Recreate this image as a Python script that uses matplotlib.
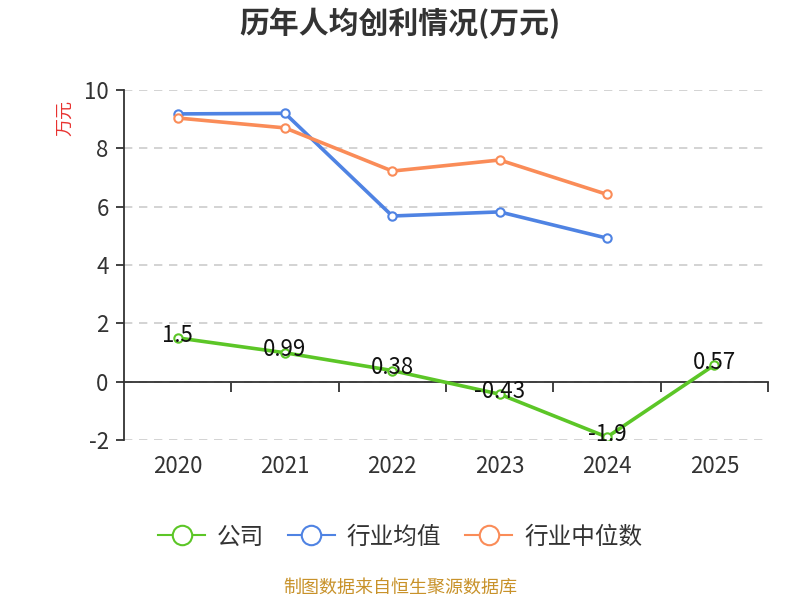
import matplotlib
matplotlib.use("Agg")
import matplotlib.pyplot as plt
from matplotlib.lines import Line2D
import numpy as np

plt.rcParams['font.family'] = ['Noto Sans CJK SC', 'DejaVu Sans']
plt.rcParams['axes.unicode_minus'] = False

years = ['2020', '2021', '2022', '2023', '2024', '2025']
company = [1.5, 0.99, 0.38, -0.43, -1.9, 0.57]
company_labels = ['1.5', '0.99', '0.38', '-0.43', '-1.9', '0.57']
industry_avg = [9.18, 9.2, 5.68, 5.82, 4.92]
industry_median = [9.04, 8.7, 7.22, 7.6, 6.42]
yticks = [-2, 0, 2, 4, 6, 8, 10]

green = '#5cc627'
blue = '#4f83e3'
orange = '#fa8c58'


def main():
    fig = plt.figure(figsize=(8, 6), dpi=100)
    ax = fig.add_axes([0.155, 0.2667, 0.805, 0.5833])

    x = np.arange(len(years))
    mk = dict(marker='o', markersize=6, markerfacecolor='white', markeredgewidth=1.5)
    ax.plot(x, company, color=green, linewidth=2.6, markeredgecolor=green, zorder=4, **mk)
    ax.plot(x[:len(industry_avg)], industry_avg, color=blue, linewidth=2.6,
            markeredgecolor=blue, zorder=3, **mk)
    ax.plot(x[:len(industry_median)], industry_median, color=orange, linewidth=2.6,
            markeredgecolor=orange, zorder=3, **mk)

    for xi, v, s in zip(x, company, company_labels):
        ax.annotate(s, (xi, v), xytext=(0, 2), textcoords='offset points',
                    ha='center', va='center', fontsize=16, color='#111111', zorder=5)

    ax.set_xlim(-0.5, len(years) - 0.5)
    ax.set_ylim(-2, 10)
    ax.set_yticks(yticks)
    ax.set_yticklabels([str(t) for t in yticks], fontsize=16, color='#333333')
    ax.grid(axis='y', linestyle=(0, (5, 4)), color='#cccccc', linewidth=1.2)
    ax.set_axisbelow(True)

    # x axis sits at y = 0, labels below the plot
    ax.spines['bottom'].set_position(('data', 0))
    ax.spines['bottom'].set_color('#333333')
    ax.spines['bottom'].set_linewidth(1.3)
    ax.spines['left'].set_color('#333333')
    ax.spines['left'].set_linewidth(1.3)
    ax.spines['top'].set_visible(False)
    ax.spines['right'].set_visible(False)

    ax.set_xticks(x)
    ax.set_xticklabels(years, fontsize=16, color='#333333')
    ax.tick_params(axis='x', which='major', length=0, pad=53)
    ax.set_xticks(np.arange(0.5, len(years), 1.0), minor=True)
    ax.tick_params(axis='x', which='minor', length=7, width=1.3, color='#333333', direction='out')
    ax.tick_params(axis='y', length=6, width=1.3, color='#333333', pad=5)

    ax.set_ylabel('万元', color='#e8312f', fontsize=13)
    ax.yaxis.set_label_coords(-0.077, 0.92)

    fig.suptitle('历年人均创利情况(万元)', fontsize=21.5, fontweight='bold', color='#333333', y=0.987)

    handles = [Line2D([], [], color=c, linewidth=1.5, marker='o', markersize=14,
                      markerfacecolor='white', markeredgewidth=1.5, markeredgecolor=c)
               for c in (green, blue, orange)]
    ax.legend(handles, ['公司', '行业均值', '行业中位数'], loc='center',
              bbox_to_anchor=(0.5, 1 - 537 / 600), bbox_transform=fig.transFigure,
              ncol=3, frameon=False, fontsize=17, handlelength=2.0, columnspacing=1.0,
              handletextpad=0.5, labelcolor='#333333')

    fig.text(0.5, 1 - 588 / 600, '制图数据来自恒生聚源数据库', ha='center', va='center',
             fontsize=13, color='#c8922a')

    fig.savefig('out.png', dpi=100)


if __name__ == "__main__":
    main()
